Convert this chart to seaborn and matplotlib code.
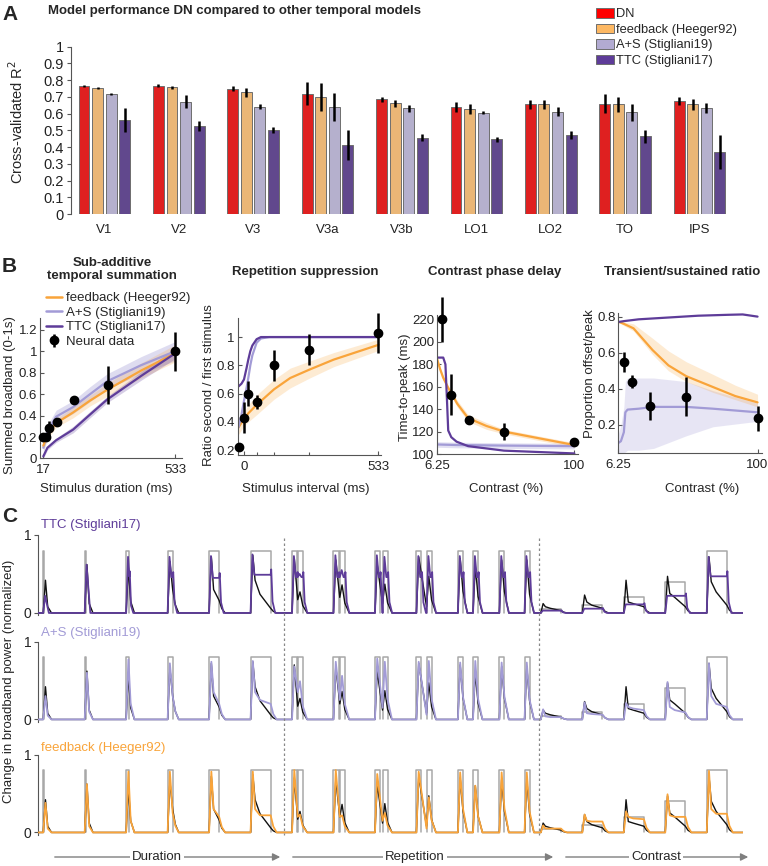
import numpy as np
import pandas as pd
import seaborn as sns
import matplotlib.pyplot as plt
from matplotlib.patches import Patch, FancyArrowPatch
from matplotlib.lines import Line2D

sns.set_theme(style='ticks')
plt.rcParams['font.family'] = ['Liberation Sans', 'DejaVu Sans']
plt.rcParams.update({
    'axes.edgecolor': '#555555', 'axes.linewidth': 0.8,
    'xtick.color': '#555555', 'ytick.color': '#555555',
    'xtick.labelcolor': '#222222', 'ytick.labelcolor': '#222222',
    'xtick.major.size': 3, 'ytick.major.size': 3,
    'xtick.major.width': 0.8, 'ytick.major.width': 0.8,
    'xtick.major.pad': 2, 'ytick.major.pad': 2,
})

# === colours ===
RED = '#ff0000'
ORANGE_BAR = '#fdb863'
LILAC_BAR = '#b2abd2'
PURPLE = '#5e3c99'
ORANGE = '#f9a43a'
LILAC = '#a29bd6'

# === Panel A data ===
areas = ['V1', 'V2', 'V3', 'V3a', 'V3b', 'LO1', 'LO2', 'TO', 'IPS']
models = ['DN', 'feedback (Heeger92)', 'A+S (Stigliani19)', 'TTC (Stigliani17)']
r2_dn = [0.766, 0.768, 0.748, 0.720, 0.685, 0.642, 0.655, 0.660, 0.677]
r2_fb = [0.754, 0.757, 0.728, 0.700, 0.662, 0.625, 0.655, 0.655, 0.655]
r2_as = [0.716, 0.672, 0.640, 0.640, 0.632, 0.606, 0.612, 0.608, 0.632]
r2_ttc = [0.562, 0.527, 0.500, 0.412, 0.456, 0.446, 0.474, 0.465, 0.370]
se_dn = [0.008, 0.008, 0.015, 0.070, 0.015, 0.030, 0.025, 0.055, 0.025]
se_fb = [0.004, 0.008, 0.028, 0.085, 0.020, 0.030, 0.025, 0.045, 0.035]
se_as = [0.005, 0.040, 0.015, 0.085, 0.020, 0.010, 0.025, 0.050, 0.030]
se_ttc = [0.070, 0.028, 0.018, 0.090, 0.020, 0.015, 0.025, 0.040, 0.100]

# === Panel B data ===
# sub-additive temporal summation
b1_x = [17, 27, 39, 71, 138, 272, 533]
b1_y = [0.20, 0.20, 0.28, 0.34, 0.545, 0.685, 1.00]
b1_err = [0.02, 0.02, 0.07, 0.04, 0.04, 0.18, 0.18]
b1_cx = [17, 33, 67, 134, 200, 267, 400, 533]
b1_fb = [0.12, 0.22, 0.33, 0.43, 0.54, 0.64, 0.82, 0.98]
b1_as = [0.10, 0.25, 0.39, 0.48, 0.60, 0.72, 0.87, 1.00]
b1_ttc = [0.02, 0.10, 0.17, 0.27, 0.41, 0.55, 0.77, 0.98]
b1_fb_sd = [0.04, 0.04, 0.04, 0.05, 0.05, 0.06, 0.07, 0.08]
b1_as_sd = [0.05, 0.06, 0.06, 0.06, 0.07, 0.07, 0.08, 0.09]
b1_ttc_sd = [0.02, 0.02, 0.02, 0.03, 0.03, 0.03, 0.04, 0.05]

# repetition suppression
b2_x = [-19, 0, 17, 53, 119, 259, 533]
b2_y = [0.22, 0.43, 0.60, 0.54, 0.80, 0.91, 1.03]
b2_err = [0.025, 0.11, 0.09, 0.05, 0.11, 0.11, 0.14]
b2_fx = [-22, -10, 0, 10, 17, 25, 33, 50, 67, 100, 533]
b2_ttc = [0.65, 0.67, 0.70, 0.78, 0.84, 0.90, 0.94, 0.985, 1.0, 1.0, 1.0]
b2_as = [0.36, 0.45, 0.55, 0.64, 0.71, 0.80, 0.87, 0.96, 0.99, 1.0, 1.0]
b2_ox = [-22, 0, 17, 50, 119, 183, 260, 355, 533]
b2_fb = [0.36, 0.42, 0.46, 0.52, 0.63, 0.71, 0.77, 0.84, 0.945]
b2_fb_sd = [0.05, 0.05, 0.06, 0.07, 0.07, 0.07, 0.06, 0.05, 0.04]

# contrast panels
b34_x = [10, 15.6, 27.8, 52, 100]
b3_y = [220, 153, 130, 120, 111]
b3_err = [20, 18, 2.5, 7.5, 3]
b3_fx = [6.25, 8.3, 10.5, 13.9, 20, 27.5, 40, 52, 76, 100]
b3_fb = [185, 176, 168, 159, 145, 132, 125, 120, 114, 108]
b3_fb_sd = [2, 2, 2, 2, 3, 3, 3, 2, 2, 2]
b3_tx = [6.25, 10.5, 12.0, 13.0, 13.9, 16, 19.6, 27.5, 52, 100]
b3_ttc = [186, 186, 180, 150, 121, 115, 111, 107, 103, 100.5]
b3_ax = [6.25, 20, 52, 100]
b3_as = [108.5, 108, 107.5, 107]

b4_y = [0.55, 0.44, 0.305, 0.357, 0.237]
b4_err = [0.055, 0.035, 0.075, 0.11, 0.07]
b4_tx = [6.25, 10, 20, 40, 60, 80, 90, 100]
b4_ttc = [0.77, 0.775, 0.785, 0.795, 0.805, 0.81, 0.812, 0.80]
b4_fx = [6.25, 10, 16.5, 29.3, 40, 52, 70, 85, 100]
b4_fb = [0.772, 0.76, 0.735, 0.615, 0.53, 0.47, 0.41, 0.36, 0.325]
b4_fb_lo = [0.77, 0.75, 0.72, 0.59, 0.50, 0.44, 0.38, 0.34, 0.30]
b4_fb_hi = [0.775, 0.77, 0.76, 0.68, 0.61, 0.55, 0.48, 0.42, 0.37]
b4_ax = [6.25, 8, 10, 11, 12.5, 20, 30, 52, 70, 100]
b4_as = [0.10, 0.11, 0.16, 0.27, 0.285, 0.29, 0.30, 0.30, 0.29, 0.27]
b4_as_lo = [0.045, 0.045, 0.045, 0.05, 0.06, 0.06, 0.07, 0.14, 0.19, 0.22]
b4_as_hi = [0.15, 0.20, 0.30, 0.44, 0.46, 0.46, 0.46, 0.44, 0.39, 0.32]

# === Panel C data (stimuli and response levels read per trial) ===
dur_s = [0.017, 0.033, 0.067, 0.134, 0.267, 0.533]
rep_isi_s = [0.017, 0.033, 0.067, 0.134, 0.267, 0.533]
con_pct = [6.25, 12.5, 25, 50, 100]

# peak, then values at +0.12 s / +0.25 s / offset where the stimulus lasts
data_dur = [[0.42, 0.08], [0.62, 0.12], [0.58, 0.15], [0.66, 0.30],
            [0.72, 0.30, 0.16], [0.74, 0.42, 0.24, 0.06]]
data_rep = [[0.70, 0.17, 0.27], [0.68, 0.20, 0.36], [0.62, 0.12, 0.37],
            [0.72, 0.08, 0.47], [0.70, 0.02, 0.60], [0.68, 0.0, 0.68]]
data_con = [[0.12, 0.08, 0.06, 0.03], [0.23, 0.14, 0.10, 0.06], [0.42, 0.14, 0.12, 0.08],
            [0.47, 0.25, 0.20, 0.08], [0.72, 0.40, 0.27, 0.10]]

as_dur = [[0.30, 0.05], [0.60, 0.10], [0.77, 0.20], [0.72, 0.30],
          [0.74, 0.35, 0.20], [0.75, 0.35, 0.25, 0.20]]
as_rep = [[0.68, 0.35, 0.49], [0.74, 0.25, 0.56], [0.78, 0.15, 0.74],
          [0.74, 0.06, 0.75], [0.73, 0.02, 0.75], [0.73, 0.0, 0.73]]
as_con = [[0.13, 0.04, 0.03, 0.03], [0.22, 0.08, 0.07, 0.06], [0.21, 0.16, 0.14, 0.12],
          [0.48, 0.16, 0.12, 0.09], [0.72, 0.30, 0.20, 0.16]]

fb_dur = [[0.38, 0.05], [0.62, 0.08], [0.78, 0.15], [0.78, 0.25],
          [0.78, 0.30, 0.20], [0.78, 0.30, 0.22, 0.22]]
fb_rep = [[0.80, 0.20, 0.23], [0.80, 0.20, 0.22], [0.75, 0.15, 0.25],
          [0.78, 0.05, 0.45], [0.77, 0.02, 0.60], [0.77, 0.0, 0.77]]
fb_con = [[0.09, 0.05, 0.05, 0.05], [0.23, 0.15, 0.14, 0.14], [0.27, 0.20, 0.18, 0.17],
          [0.49, 0.22, 0.20, 0.20], [0.79, 0.30, 0.24, 0.24]]

# TTC: peak, plateau
ttc_dur = [[0.22, 0.0], [0.62, 0.0], [0.72, 0.47], [0.72, 0.46], [0.73, 0.45], [0.75, 0.49]]
ttc_rep = [[0.73, 0.50], [0.74, 0.55], [0.74, 0.72], [0.73, 0.73], [0.73, 0.73], [0.73, 0.73]]
ttc_con = [[0.03, 0.03], [0.055, 0.055], [0.11, 0.11], [0.22, 0.22], [0.72, 0.47]]
TTC_PLAT = 0.46

T_TRIAL = 1.1
STIM_S = 0.134
XL, XR = -0.13, 18.57
DASHES = [6.39, 13.16]

# === figure ===
W, H = 768, 866
fig = plt.figure(figsize=(W / 100, H / 100), dpi=100)


def px_axes(l, t, r, b):
    return fig.add_axes([l / W, 1 - b / H, (r - l) / W, (b - t) / H])


def ftext(x, y, s, **kw):
    kw.setdefault('ha', 'center')
    kw.setdefault('va', 'center')
    fig.text(x / W, 1 - y / H, s, **kw)


# === A: bar chart ===
axA = px_axes(71, 46.7, 735, 214)
dfA = pd.DataFrame({
    'area': areas * 4,
    'model': np.repeat(models, len(areas)),
    'r2': r2_dn + r2_fb + r2_as + r2_ttc,
    'se': se_dn + se_fb + se_as + se_ttc,
})
bar_cols = [RED, ORANGE_BAR, LILAC_BAR, PURPLE]
sns.barplot(data=dfA, x='area', y='r2', hue='model', hue_order=models,
            palette=bar_cols, width=0.73, gap=0.2, errorbar=None,
            edgecolor='#6e6e6e', linewidth=0.7, legend=False, ax=axA)
slot = 0.73 / 4
xs, ys, es = [], [], []
for p in axA.patches:
    xc = p.get_x() + p.get_width() / 2
    ci = int(round(xc))
    hi = int(round((xc - ci + 0.73 / 2 - slot / 2) / slot))
    row = dfA[(dfA.area == areas[ci]) & (dfA.model == models[hi])].iloc[0]
    xs.append(xc)
    ys.append(row.r2)
    es.append(row.se)
axA.errorbar(xs, ys, yerr=es, fmt='none', ecolor='black', elinewidth=1.8, capsize=0, zorder=5)
axA.set_ylim(0, 1)
axA.set_xlim(-0.448, 8.477)
axA.set_yticks(np.arange(0, 1.01, 0.1))
axA.set_yticklabels(['0'] + ['%.1f' % v for v in np.arange(0.1, 0.95, 0.1)] + ['1'], fontsize=10.5)
axA.tick_params(axis='x', length=0, pad=7, labelsize=9.5)
axA.set_xlabel('')
axA.set_ylabel('')
for s in ['top', 'right', 'bottom']:
    axA.spines[s].set_visible(False)
ftext(17, 122, 'Cross-validated R$^2$', rotation=90, fontsize=10.5)
ftext(48, 11, 'Model performance DN compared to other temporal models',
      ha='left', fontsize=9.5, fontweight='bold')
fig.legend(handles=[Patch(facecolor=c, edgecolor='#6e6e6e', lw=0.7, label=m)
                    for c, m in zip(bar_cols, models)],
           loc='upper left', bbox_to_anchor=(596 / W, 1 - 8 / H), frameon=False,
           fontsize=9.3, handlelength=1.4, handleheight=0.8, handletextpad=0.15,
           labelspacing=0.24, borderpad=0, borderaxespad=0)

# === B panels ===
axB1 = px_axes(40, 318, 182, 458.5)
axB2 = px_axes(237.7, 318, 381, 455)
axB3 = px_axes(437, 315, 578, 454)
axB4 = px_axes(618.3, 313, 762, 453.3)


def band(ax, x, y, sd, color, alpha):
    ax.fill_between(x, np.array(y) - np.array(sd), np.array(y) + np.array(sd),
                    color=color, alpha=alpha, lw=0)


def points(ax, x, y, err):
    return ax.errorbar(x, y, yerr=err, fmt='o', color='black', ms=6,
                       elinewidth=1.8, capsize=0, zorder=6, clip_on=False)


# B1
band(axB1, b1_cx, b1_as, b1_as_sd, LILAC, 0.35)
band(axB1, b1_cx, b1_fb, b1_fb_sd, ORANGE, 0.22)
band(axB1, b1_cx, b1_ttc, b1_ttc_sd, PURPLE, 0.25)
sns.lineplot(x=b1_cx, y=b1_as, color=LILAC, lw=1.6, ax=axB1)
sns.lineplot(x=b1_cx, y=b1_fb, color=ORANGE, lw=1.6, ax=axB1)
sns.lineplot(x=b1_cx, y=b1_ttc, color=PURPLE, lw=1.6, ax=axB1)
eb = points(axB1, b1_x, b1_y, b1_err)
axB1.set_xlim(4, 560)
axB1.set_ylim(0, 1.31)
axB1.set_xticks([17, 533])
axB1.set_yticks([0, 0.2, 0.4, 0.6, 0.8, 1.0, 1.2])
axB1.set_yticklabels(['0', '0.2', '0.4', '0.6', '0.8', '1', '1.2'])

# B2
band(axB2, b2_ox, b2_fb, b2_fb_sd, ORANGE, 0.22)
sns.lineplot(x=b2_ox, y=b2_fb, color=ORANGE, lw=1.6, ax=axB2)
sns.lineplot(x=b2_fx, y=b2_as, color=LILAC, lw=1.6, ax=axB2)
sns.lineplot(x=b2_fx, y=b2_ttc, color=PURPLE, lw=1.6, ax=axB2)
points(axB2, b2_x, b2_y, b2_err)
axB2.set_xlim(-25, 543)
axB2.set_ylim(0.165, 1.135)
axB2.set_xticks([0, 533])
axB2.set_xticks([53, 119, 259], minor=True)
axB2.set_yticks([0.2, 0.4, 0.6, 0.8, 1.0])
axB2.set_yticklabels(['0.2', '0.4', '0.6', '0.8', '1'])

# B3
band(axB3, b3_fx, b3_fb, b3_fb_sd, ORANGE, 0.25)
axB3.fill_between(b3_ax, np.array(b3_as) - 2.5, np.array(b3_as) + 2.5, color=LILAC, alpha=0.3, lw=0)
sns.lineplot(x=b3_ax, y=b3_as, color=LILAC, lw=1.6, ax=axB3)
sns.lineplot(x=b3_fx, y=b3_fb, color=ORANGE, lw=1.6, ax=axB3)
sns.lineplot(x=b3_tx, y=b3_ttc, color=PURPLE, lw=1.6, ax=axB3)
points(axB3, b34_x, b3_y, b3_err)
axB3.set_xlim(6.25, 102.5)
axB3.set_ylim(100, 224)
axB3.set_xticks([6.25, 100])
axB3.set_xticklabels(['6.25', '100'])
axB3.set_yticks([100, 120, 140, 160, 180, 200, 220])

# B4
axB4.fill_between(b4_ax, b4_as_lo, b4_as_hi, color=LILAC, alpha=0.25, lw=0)
axB4.fill_between(b4_fx, b4_fb_lo, b4_fb_hi, color=ORANGE, alpha=0.22, lw=0)
sns.lineplot(x=b4_ax, y=b4_as, color=LILAC, lw=1.6, ax=axB4)
sns.lineplot(x=b4_fx, y=b4_fb, color=ORANGE, lw=1.6, ax=axB4)
sns.lineplot(x=b4_tx, y=b4_ttc, color=PURPLE, lw=1.6, ax=axB4)
points(axB4, b34_x, b4_y, b4_err)
axB4.set_xlim(6.25, 103)
axB4.set_ylim(0.043, 0.82)
axB4.set_xticks([6.25, 100])
axB4.set_xticklabels(['6.25', '100'])
axB4.set_yticks([0.2, 0.4, 0.6, 0.8])

for ax in [axB1, axB2, axB3, axB4]:
    sns.despine(ax=ax)
    ax.tick_params(labelsize=9.5, direction='in', pad=2)
    ax.tick_params(axis='x', pad=4)
    ax.tick_params(which='minor', direction='in', length=2, width=0.8, color='#555555')

ftext(112, 269.5, 'Sub-additive\ntemporal summation', fontsize=9.5, fontweight='bold', linespacing=1.15)
ftext(305, 272, 'Repetition suppression', fontsize=9.5, fontweight='bold')
ftext(495, 272, 'Contrast phase delay', fontsize=9.5, fontweight='bold')
ftext(682, 272, 'Transient/sustained ratio', fontsize=9.5, fontweight='bold')
ftext(106, 489, 'Stimulus duration (ms)', fontsize=9.5)
ftext(306, 489, 'Stimulus interval (ms)', fontsize=9.5)
ftext(506, 489, 'Contrast (%)', fontsize=9.5)
ftext(702, 489, 'Contrast (%)', fontsize=9.5)
ftext(10, 395, 'Summed broadband (0-1s)', rotation=90, fontsize=9.5)
ftext(209, 385, 'Ratio second / first stimulus', rotation=90, fontsize=9.5)
ftext(405, 387, 'Time-to-peak (ms)', rotation=90, fontsize=9.5)
ftext(590, 374, 'Proportion offset/peak', rotation=90, fontsize=9.5)

fig.legend(handles=[Line2D([], [], color=ORANGE, lw=1.8, label='feedback (Heeger92)'),
                    Line2D([], [], color=LILAC, lw=1.8, label='A+S (Stigliani19)'),
                    Line2D([], [], color=PURPLE, lw=1.8, label='TTC (Stigliani17)'),
                    eb],
           labels=['feedback (Heeger92)', 'A+S (Stigliani19)', 'TTC (Stigliani17)', 'Neural data'],
           loc='upper left', bbox_to_anchor=(46 / W, 1 - 292 / H), frameon=False,
           fontsize=9.5, handlelength=1.2, handletextpad=0.3, labelspacing=0.18,
           borderpad=0, borderaxespad=0)


# === C: time courses ===
def resp_knots(t0, d, vals):
    if d < 0.1:
        rel = [0.06, 0.12]
    else:
        rel = [r for r in (0.06, 0.12, 0.25) if r < d - 0.02] + [d]
    pts = [(t0, 0.0)] + [(t0 + r, v) for r, v in zip(rel, vals)]
    if d < 0.1:
        pts.append((t0 + 0.22, 0.0))
    else:
        pts += [(t0 + d + 0.07, vals[-1] * 0.35), (t0 + d + 0.16, 0.0)]
    return pts


def rep_knots(t0, isi, vals):
    p1, dip, p2 = vals
    s2 = STIM_S + isi
    pts = [(t0, 0.0), (t0 + 0.06, p1)]
    if s2 <= 0.3:
        pts.append((t0 + s2, dip))
    else:
        pts += [(t0 + STIM_S, p1 * 0.4), (t0 + 0.25, 0.0), (t0 + s2, 0.0)]
    pts += [(t0 + s2 + 0.06, p2), (t0 + s2 + STIM_S, p2 * 0.35), (t0 + s2 + 0.25, 0.0)]
    return pts


def ttc_knots(t0, d, p, plat):
    b = 0.14 * plat
    if d < 0.05:
        return [(t0, 0.0), (t0 + 0.05, p), (t0 + 0.15, 0.0)]
    if d < 0.1:
        return [(t0, 0.0), (t0 + 0.05, p), (t0 + 0.085, plat), (t0 + 0.095, plat + b),
                (t0 + 0.13, 0.2 * plat), (t0 + 0.19, 0.0)]
    return [(t0, 0.0), (t0 + 0.05, p), (t0 + 0.1, plat), (t0 + d, plat),
            (t0 + d + 0.015, plat + b), (t0 + d + 0.05, 0.3 * plat), (t0 + d + 0.12, 0.0)]


def ttc_rep_knots(t0, isi, vals):
    s2 = STIM_S + isi
    first = [pt for pt in ttc_knots(t0, STIM_S, vals[0], TTC_PLAT) if pt[0] < t0 + s2 - 1e-6]
    second = ttc_knots(t0 + s2, STIM_S, vals[1], TTC_PLAT)
    if isi < 0.05:
        second[0] = (t0 + s2, TTC_PLAT)
    return first + second


def build(d_par, r_par, c_par, ttc=False):
    pts = [(XL, 0.0)]
    k = 0
    for d, v in zip(dur_s, d_par):
        pts += ttc_knots(k * T_TRIAL, d, *v) if ttc else resp_knots(k * T_TRIAL, d, v)
        k += 1
    for isi, v in zip(rep_isi_s, r_par):
        pts += ttc_rep_knots(k * T_TRIAL, isi, v) if ttc else rep_knots(k * T_TRIAL, isi, v)
        k += 1
    for c, v in zip(con_pct, c_par):
        pts += ttc_knots(k * T_TRIAL, 0.533, *v) if ttc else resp_knots(k * T_TRIAL, 0.533, v)
        k += 1
    pts.append((XR, 0.0))
    return pd.DataFrame(pts, columns=['t', 'v'])


def stim_boxes():
    bx, by = [], []

    def box(t0, d, h):
        bx.extend([t0, t0, t0 + d, t0 + d, np.nan])
        by.extend([0, h, h, 0, np.nan])
    k = 0
    for d in dur_s:
        box(k * T_TRIAL, d, 0.8)
        k += 1
    for isi in rep_isi_s:
        box(k * T_TRIAL, STIM_S, 0.8)
        box(k * T_TRIAL + STIM_S + isi, STIM_S, 0.8)
        k += 1
    for c in con_pct:
        box(k * T_TRIAL, 0.533, 0.8 * c / 100)
        k += 1
    return bx, by


df_data = build(data_dur, data_rep, data_con)
rows = [
    ('TTC (Stigliani17)', PURPLE, build(ttc_dur, ttc_rep, ttc_con, ttc=True), (38.3, 535, 615.3), 525),
    ('A+S (Stigliani19)', LILAC, build(as_dur, as_rep, as_con), (38.3, 641.5, 721.8), 633),
    ('feedback (Heeger92)', ORANGE, build(fb_dur, fb_rep, fb_con), (38.3, 754.5, 834.8), 748),
]
bx, by = stim_boxes()
axC = []
for name, col, df_m, (l, t, b), ty in rows:
    ax = px_axes(l, t, 743.3, b)
    ax.plot(bx, by, color='#a8a8a8', lw=1.1, zorder=1)
    sns.lineplot(data=df_data, x='t', y='v', sort=False, estimator=None,
                 color='#111111', lw=1.0, ax=ax, zorder=2)
    sns.lineplot(data=df_m, x='t', y='v', sort=False, estimator=None,
                 color=col, lw=1.3, ax=ax, zorder=3)
    ax.set_xlim(XL, XR)
    ax.set_ylim(-0.03, 1.0)
    ax.set_yticks([0, 1])
    ax.set_yticklabels(['0', '1'])
    ax.set_xticks([])
    ax.set_xlabel('')
    ax.set_ylabel('')
    ax.tick_params(labelsize=10)
    for s in ['top', 'right', 'bottom']:
        ax.spines[s].set_visible(False)
    ftext(41, ty, name, ha='left', color=col, fontsize=9.5)
    axC.append(ax)

# dotted section separators across the three rows
for td in DASHES:
    xd = fig.transFigure.inverted().transform(axC[0].transData.transform((td, 0)))[0]
    fig.add_artist(Line2D([xd, xd], [1 - 538 / H, 1 - 835 / H], transform=fig.transFigure,
                          ls=(0, (2, 2)), color='#888888', lw=0.9))

ftext(9, 681, 'Change in broadband power (normalized)', rotation=90, fontsize=9.5)

# section arrows
for x0, x1, label, xc in [(52, 283, 'Duration', 157), (290, 556, 'Repetition', 415),
                          (563, 751, 'Contrast', 656)]:
    fig.add_artist(FancyArrowPatch((x0 / W, 1 - 857 / H), (x1 / W, 1 - 857 / H),
                                   transform=fig.transFigure, arrowstyle='-|>',
                                   mutation_scale=11, color='#7f7f7f', lw=1.0))
    ftext(xc, 857, label, fontsize=9.5, bbox=dict(facecolor='white', edgecolor='none', pad=1.5))

# panel letters
ftext(2, 14, 'A', ha='left', fontsize=15, fontweight='bold')
ftext(2, 267, 'B', ha='left', fontsize=15, fontweight='bold')
ftext(2, 517, 'C', ha='left', fontsize=15, fontweight='bold')

fig.savefig('out.png', dpi=100)
